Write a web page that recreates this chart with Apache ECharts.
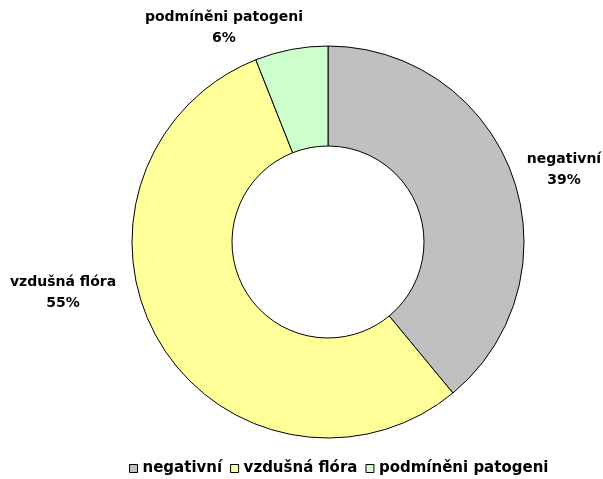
<!DOCTYPE html>
<html>
<head>
<meta charset="utf-8">
<script src="https://cdn.jsdelivr.net/npm/echarts@6/dist/echarts.min.js"></script>
<style>
  html, body { margin: 0; padding: 0; background: #fff; }
  #chart { width: 603px; height: 479px; }
</style>
</head>
<body>
<div id="chart"></div>
<script>
// categories and shares (percent)
const categories = ['negativní', 'vzdušná flóra', 'podmíněni patogeni']
const values = [39, 55, 6]
const colors = ['#C0C0C0', '#FFFF99', '#CCFFCC']

// where each data label sits (centre of the text block), Excel-like placement
const labelPos = [[564, 170], [63, 293], [224, 28]]

const chart = echarts.init(document.getElementById('chart'), null, { renderer: 'canvas' })

const pieData = categories.map((name, i) => ({
  name,
  value: values[i],
  itemStyle: { color: colors[i] },
}))

const font = 'DejaVu Sans, sans-serif'

chart.setOption({
  animation: false,
  legend: {
    data: categories,
    top: 461,
    left: 129,
    icon: 'rect',
    itemWidth: 8,
    itemHeight: 8,
    itemGap: 8,
    padding: 0,
    textStyle: { fontFamily: font, fontWeight: 'bold', fontSize: 15, color: '#000' },
    itemStyle: { borderColor: '#000', borderWidth: 1 },
  },
  series: [{
    type: 'pie',
    center: [328, 242],
    radius: [96, 196],
    startAngle: 90,
    clockwise: true,
    data: pieData,
    itemStyle: { borderColor: '#000', borderWidth: 1 },
    label: {
      show: true,
      position: 'outside',
      formatter: '{b}\n{c}%',
      fontFamily: font,
      fontWeight: 'bold',
      fontSize: 14,
      color: '#000',
      lineHeight: 21,
      overflow: 'none',
    },
    labelLine: { show: false },
    labelLayout: (params) => ({
      x: labelPos[params.dataIndex][0],
      y: labelPos[params.dataIndex][1],
      align: 'center',
      verticalAlign: 'middle',
    }),
    emphasis: { disabled: true },
  }],
})
</script>
</body>
</html>
